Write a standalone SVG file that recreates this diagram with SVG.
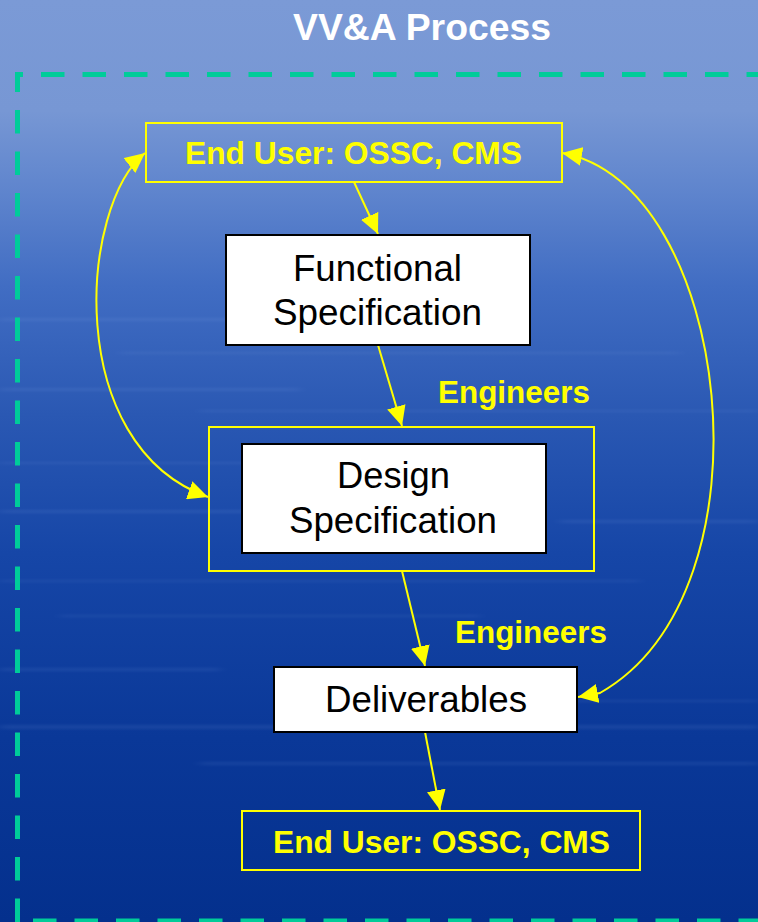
<svg xmlns="http://www.w3.org/2000/svg" width="758" height="922" viewBox="0 0 758 922">
  <defs>
    <linearGradient id="sea" x1="0" y1="0" x2="0" y2="1">
      <stop offset="0" stop-color="#7b9ad6"/>
      <stop offset="0.12" stop-color="#7797d4"/>
      <stop offset="0.21" stop-color="#5e84cd"/>
      <stop offset="0.31" stop-color="#416dc3"/>
      <stop offset="0.45" stop-color="#2a58b3"/>
      <stop offset="0.6" stop-color="#1646a7"/>
      <stop offset="0.8" stop-color="#0a3898"/>
      <stop offset="1" stop-color="#04308d"/>
    </linearGradient>
    <filter id="soft" x="-5%" y="-200%" width="110%" height="500%">
      <feGaussianBlur stdDeviation="6 1.5"/>
    </filter>
    <marker id="head" viewBox="0 0 20 19" refX="20" refY="9.5" markerWidth="20" markerHeight="19" markerUnits="userSpaceOnUse" orient="auto-start-reverse">
      <path d="M0,0 L20,9.5 L0,19 Z" fill="#ffff00"/>
    </marker>
    <style>
      .frame { fill: none; stroke: #00cc99; stroke-width: 5; stroke-dasharray: 23.5 18; }
      .user { fill: none; stroke: #ffff00; stroke-width: 2; }
      .spec { fill: #ffffff; stroke: #000000; stroke-width: 2; }
      .ylabel { font-family: "Liberation Sans", Arial, sans-serif; font-weight: bold; font-size: 31px; fill: #ffff00; text-anchor: middle; }
      .blabel { font-family: "Liberation Sans", Arial, sans-serif; font-size: 36px; fill: #000000; text-anchor: middle; }
      .title { font-family: "Liberation Sans", Arial, sans-serif; font-weight: bold; font-size: 36px; fill: #ffffff; text-anchor: middle; }
      .link { fill: none; stroke: #ffff00; stroke-width: 2; }
      .streak { fill: #9bb8ee; }
    </style>
  </defs>

  <!-- background -->
  <rect x="0" y="0" width="758" height="922" fill="url(#sea)"/>
  <g id="streaks" opacity="0.1" filter="url(#soft)">
    <rect class="streak" x="0" y="318" width="420" height="3"/>
    <rect class="streak" x="120" y="352" width="560" height="2"/>
    <rect class="streak" x="0" y="388" width="300" height="3"/>
    <rect class="streak" x="200" y="410" width="558" height="2"/>
    <rect class="streak" x="0" y="462" width="500" height="2"/>
    <rect class="streak" x="0" y="510" width="260" height="3"/>
    <rect class="streak" x="560" y="520" width="198" height="3"/>
    <rect class="streak" x="0" y="580" width="640" height="2"/>
    <rect class="streak" x="60" y="615" width="420" height="2"/>
    <rect class="streak" x="0" y="668" width="220" height="3"/>
    <rect class="streak" x="560" y="700" width="198" height="2"/>
    <rect class="streak" x="0" y="725" width="758" height="4"/>
    <rect class="streak" x="200" y="762" width="558" height="3"/>
  </g>

  <!-- title -->
  <text class="title" x="422" y="40" textLength="258" lengthAdjust="spacingAndGlyphs">VV&amp;A Process</text>

  <!-- dashed process frame -->
  <g id="frame">
    <path class="frame" d="M15 74.5 H760" stroke-dashoffset="15.5"/>
    <path class="frame" d="M17.5 72 V925" stroke-dashoffset="3.5"/>
    <path class="frame" d="M33 921 H760"/>
  </g>

  <!-- connectors -->
  <g id="connectors">
    <path class="link" d="M354 182 L378 234" marker-end="url(#head)"/>
    <path class="link" d="M378 345 L402 426" marker-end="url(#head)"/>
    <path class="link" d="M402 571 L425 666" marker-end="url(#head)"/>
    <path class="link" d="M425 732 L440 810" marker-end="url(#head)"/>
    <path class="link" d="M145 153 C80 205 62 445 208 497" marker-start="url(#head)" marker-end="url(#head)"/>
    <path class="link" d="M562 153 C730 182 780 590 600 693 L578 697" marker-start="url(#head)" marker-end="url(#head)"/>
  </g>

  <!-- nodes -->
  <g id="end-user-top">
    <rect class="user" x="146" y="123" width="416" height="59"/>
    <text class="ylabel" x="353.5" y="164" textLength="337" lengthAdjust="spacingAndGlyphs">End User: OSSC, CMS</text>
  </g>

  <g id="functional-spec">
    <rect class="spec" x="226" y="235" width="304" height="110"/>
    <text class="blabel" x="377.5" y="281" textLength="169" lengthAdjust="spacingAndGlyphs">Functional</text>
    <text class="blabel" x="377.5" y="325" textLength="209" lengthAdjust="spacingAndGlyphs">Specification</text>
  </g>

  <text id="engineers-1" class="ylabel" x="514" y="403" textLength="152" lengthAdjust="spacingAndGlyphs">Engineers</text>

  <g id="design-spec">
    <rect class="user" x="209" y="427" width="385" height="144"/>
    <rect class="spec" x="242" y="444" width="304" height="109"/>
    <text class="blabel" x="393.5" y="488" textLength="113" lengthAdjust="spacingAndGlyphs">Design</text>
    <text class="blabel" x="393" y="533" textLength="208" lengthAdjust="spacingAndGlyphs">Specification</text>
  </g>

  <text id="engineers-2" class="ylabel" x="531" y="643" textLength="152" lengthAdjust="spacingAndGlyphs">Engineers</text>

  <g id="deliverables">
    <rect class="spec" x="274" y="667" width="303" height="65"/>
    <text class="blabel" x="426" y="712" textLength="202" lengthAdjust="spacingAndGlyphs">Deliverables</text>
  </g>

  <g id="end-user-bottom">
    <rect class="user" x="242" y="811" width="398" height="59"/>
    <text class="ylabel" x="441.5" y="853" textLength="337" lengthAdjust="spacingAndGlyphs">End User: OSSC, CMS</text>
  </g>
</svg>
